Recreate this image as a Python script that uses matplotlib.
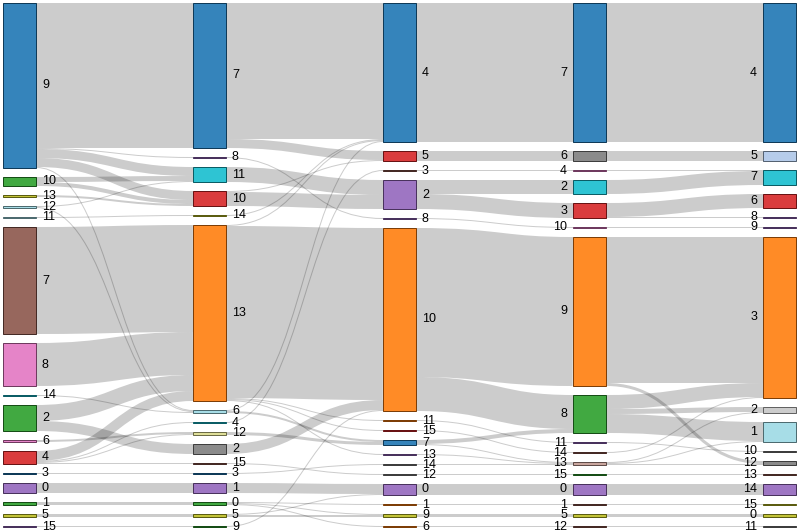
import matplotlib
matplotlib.use("Agg")
import matplotlib.pyplot as plt
from matplotlib.path import Path
from matplotlib.patches import PathPatch, Rectangle
import matplotlib.colors as mcolors

plt.rcParams['font.family'] = ['Liberation Sans', 'DejaVu Sans']

# node order in each column, top to bottom
col0 = ['9', '10', '13', '12', '11', '7', '8', '14', '2', '6', '4', '3', '0', '1', '5', '15']
col1 = ['7', '8', '11', '10', '14', '13', '6', '4', '12', '2', '15', '3', '1', '0', '5', '9']
col2 = ['4', '5', '3', '2', '8', '10', '11', '15', '7', '13', '14', '12', '0', '1', '9', '6']
col3 = ['7', '6', '4', '2', '3', '10', '9', '8', '11', '14', '13', '15', '0', '1', '5', '12']
col4 = ['4', '5', '7', '6', '8', '9', '3', '2', '1', '10', '12', '13', '14', '15', '0', '11']

# flows between neighbouring columns: (source, target, value)
links01 = [('9', '7', 145), ('9', '8', 1), ('9', '11', 9), ('9', '10', 9), ('9', '6', 1),
           ('10', '11', 5), ('10', '10', 4), ('13', '10', 2), ('12', '11', 1), ('12', '6', 1),
           ('11', '14', 1), ('7', '13', 107), ('8', '13', 43), ('14', '6', 1),
           ('2', '13', 16), ('2', '2', 10), ('6', '12', 2), ('4', '13', 10), ('4', '12', 1),
           ('4', '15', 1), ('4', '4', 1), ('3', '3', 1), ('0', '1', 10), ('1', '0', 3),
           ('5', '5', 3), ('15', '9', 1)]
links12 = [('7', '4', 136), ('7', '5', 9), ('8', '8', 1), ('11', '2', 15), ('10', '2', 14),
           ('10', '5', 1), ('14', '4', 1), ('13', '4', 1), ('13', '10', 172), ('13', '11', 1),
           ('13', '13', 1), ('13', '15', 1), ('6', '4', 1), ('6', '7', 2), ('4', '3', 1),
           ('12', '7', 3), ('2', '10', 10), ('15', '12', 1), ('3', '14', 1), ('1', '0', 10),
           ('0', '1', 1), ('0', '6', 1), ('0', '9', 1), ('5', '9', 2), ('5', '0', 1),
           ('9', '10', 1)]
links23 = [('4', '7', 139), ('5', '6', 10), ('3', '4', 1), ('2', '2', 14), ('2', '3', 15),
           ('8', '10', 1), ('10', '9', 149), ('10', '8', 34), ('7', '8', 4), ('7', '13', 1),
           ('11', '11', 1), ('15', '14', 1), ('13', '13', 1), ('14', '13', 1), ('12', '15', 1),
           ('0', '0', 11), ('1', '1', 1), ('9', '5', 3), ('6', '12', 1)]
links34 = [('7', '4', 139), ('6', '5', 10), ('2', '7', 14), ('4', '7', 1), ('3', '6', 14),
           ('3', '8', 1), ('10', '9', 1), ('9', '3', 146), ('9', '12', 3), ('8', '3', 14),
           ('8', '2', 5), ('8', '1', 19), ('14', '3', 1), ('11', '10', 1), ('13', '12', 1),
           ('13', '2', 1), ('13', '1', 1), ('15', '13', 1), ('0', '14', 11), ('1', '15', 1),
           ('5', '0', 3), ('12', '11', 1)]

columns = [col0, col1, col2, col3, col4]
stages = [links01, links12, links23, links34]

# node fill colours (category20)
pal = {'blue': '#1f77b4', 'lblue': '#aec7e8', 'orange': '#ff7f0e', 'green': '#2ca02c',
       'red': '#d62728', 'purple': '#9467bd', 'brown': '#8c564b', 'lbrown': '#c49c94',
       'pink': '#e377c2', 'gray': '#7f7f7f', 'lgray': '#c7c7c7', 'olive': '#bcbd22',
       'lolive': '#dbdb8d', 'cyan': '#17becf', 'lcyan': '#9edae5'}
colors = [
    ['blue', 'green', 'olive', 'lcyan', 'lcyan', 'brown', 'pink', 'cyan', 'green', 'pink',
     'red', 'blue', 'purple', 'green', 'olive', 'purple'],
    ['blue', 'purple', 'cyan', 'red', 'olive', 'orange', 'lcyan', 'cyan', 'lolive', 'gray',
     'brown', 'blue', 'purple', 'green', 'olive', 'green'],
    ['blue', 'red', 'brown', 'purple', 'purple', 'orange', 'orange', 'red', 'blue', 'purple',
     'gray', 'gray', 'purple', 'orange', 'olive', 'orange'],
    ['blue', 'gray', 'pink', 'cyan', 'red', 'pink', 'orange', 'green', 'purple', 'brown',
     'lbrown', 'green', 'purple', 'brown', 'olive', 'brown'],
    ['blue', 'lblue', 'cyan', 'red', 'purple', 'purple', 'orange', 'lgray', 'lcyan', 'gray',
     'gray', 'brown', 'purple', 'olive', 'olive', 'gray'],
]

W, H = 799, 532
x_left, x_right = 3, 796
node_w = 33
y_top, y_bot = 3, 527
pad = 9

# node values = max(in, out)
values = []
for c, names in enumerate(columns):
    v = {}
    for n in names:
        out_v = sum(l[2] for l in stages[c] if l[0] == n) if c < len(stages) else 0
        in_v = sum(l[2] for l in stages[c - 1] if l[1] == n) if c > 0 else 0
        v[n] = max(in_v, out_v)
    values.append(v)

ky = min((y_bot - y_top - (len(names) - 1) * pad) / sum(values[c].values())
         for c, names in enumerate(columns))
dx = (x_right - x_left - node_w) / (len(columns) - 1)

pos = []
for c, names in enumerate(columns):
    p = {}
    y = y_top
    for n in names:
        h = values[c][n] * ky
        p[n] = [y, h]
        y += h + pad
    pos.append(p)

fig = plt.figure(figsize=(W / 100, H / 100), dpi=100)
ax = fig.add_axes([0, 0, 1, 1])
ax.set_xlim(0, W)
ax.set_ylim(H, 0)
ax.axis('off')

px = 72 / 100

for s, links in enumerate(stages):
    src_pos, tgt_pos = pos[s], pos[s + 1]
    sx = x_left + s * dx + node_w
    tx = x_left + (s + 1) * dx
    out_off = {n: src_pos[n][0] for n in src_pos}
    in_off = {n: tgt_pos[n][0] for n in tgt_pos}
    ys0, ys1 = {}, {}
    for i, l in sorted(enumerate(links), key=lambda t: (src_pos[t[1][0]][0], tgt_pos[t[1][1]][0])):
        w = l[2] * ky
        ys0[i] = out_off[l[0]] + w / 2
        out_off[l[0]] += w
    for i, l in sorted(enumerate(links), key=lambda t: (tgt_pos[t[1][1]][0], src_pos[t[1][0]][0])):
        w = l[2] * ky
        ys1[i] = in_off[l[1]] + w / 2
        in_off[l[1]] += w
    mx = (sx + tx) / 2
    for i, l in enumerate(links):
        w = max(l[2] * ky, 1)
        path = Path([(sx, ys0[i]), (mx, ys0[i]), (mx, ys1[i]), (tx, ys1[i])],
                    [Path.MOVETO, Path.CURVE4, Path.CURVE4, Path.CURVE4])
        ax.add_patch(PathPatch(path, fill=False, edgecolor=(0, 0, 0, 0.2),
                               lw=w * px, capstyle='butt'))

for c, names in enumerate(columns):
    x = x_left + c * dx
    for k, n in enumerate(names):
        y, h = pos[c][n]
        rgb = mcolors.to_rgb(pal[colors[c][k]])
        dark = tuple(v * 0.49 for v in rgb)
        ax.add_patch(Rectangle((x, y), node_w, h, facecolor=rgb + (0.9,),
                               edgecolor=dark, lw=1 * px))
        if x < W / 2:
            ax.text(x + node_w + 6, y + h / 2, n, ha='left', va='center', fontsize=9, color='#000')
        else:
            ax.text(x - 6, y + h / 2, n, ha='right', va='center', fontsize=9, color='#000')

fig.savefig('out.png', dpi=100)
